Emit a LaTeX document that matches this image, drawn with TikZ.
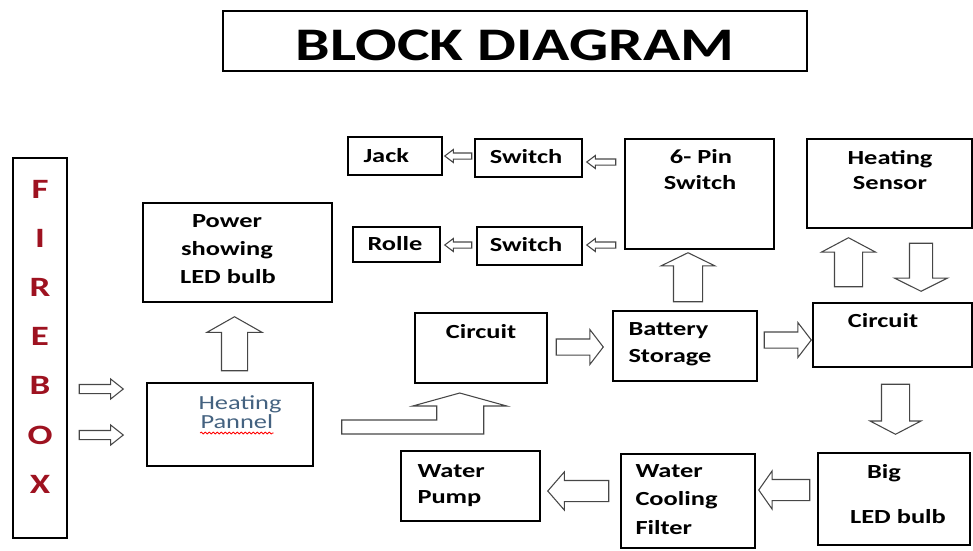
\documentclass[tikz,border=0pt]{standalone}
\usepackage{fontspec}
\setmainfont{Carlito}[FakeStretch=1.32]
\usetikzlibrary{calc,shapes.arrows,decorations.pathmorphing}

\definecolor{fireRed}{RGB}{158,18,32}
\definecolor{panelBlue}{RGB}{68,98,128}
\definecolor{arrowGrey}{RGB}{70,70,70}

\tikzset{every picture/.style={line width=0.75pt}}
\tikzset{
  box/.style 2 args={draw, line width=1.1pt, inner sep=0pt, minimum width=#1, minimum height=#2},
  lbl/.style={font=\bfseries\fontsize{15}{18}\selectfont, inner sep=0pt, anchor=base},
  lblw/.style={lbl, anchor=base west},
  fat/.style={single arrow, draw=arrowGrey, line width=0.8pt, inner xsep=0pt, text height=0pt, text depth=0pt,
    minimum width=0pt, single arrow head indent=0pt, anchor=tail},
  fatsize/.style n args={4}{minimum height=#1, inner ysep=#2, single arrow head extend=#3, single arrow tip angle=#4},
}

\begin{document}
\begin{tikzpicture}[x=0.75pt,y=0.75pt,yscale=-1,xscale=1]
\useasboundingbox (0,0) rectangle (973,550);

% Title
\node[box={438pt}{45pt}] (title) at (515,41) {};
\node[lbl, font=\bfseries\fontsize{35}{40}\selectfont] (titletext) at (515,60) {BLOCK DIAGRAM};

% Firebox
\node[box={40.5pt}{285pt}] (fb) at (40,348) {};
\foreach \l [count=\i from 0] in {F,I,R,E,B,O,X}
  \node[lbl, font=\bfseries\fontsize{21}{24}\selectfont, text=fireRed] (fbl\i) at (40,{198+49.2*\i}) {\l};

% Blocks
\node[box={141.75pt}{74.25pt}] (pwr) at (237.5,252.5) {};
\node[box={124.5pt}{62.25pt}] (hp) at (230,424.5) {};
\node[box={99pt}{52.5pt}] (cir1) at (481,348) {};
\node[box={108pt}{52.5pt}] (bat) at (685,346) {};
\node[box={111.75pt}{82.5pt}] (pin) at (699.5,194) {};
\node[box={123.75pt}{66.75pt}] (sens) at (889.5,183.5) {};
\node[box={119.25pt}{48pt}] (cir2) at (892.5,335) {};
\node[box={80.25pt}{28.5pt}] (sw1) at (528.5,158) {};
\node[box={70.5pt}{28.5pt}] (jack) at (395,156) {};
\node[box={78.75pt}{28.5pt}] (sw2) at (529.5,246) {};
\node[box={65.25pt}{26.25pt}] (rolle) at (396.5,244.5) {};
\node[box={114pt}{69pt}] (led) at (894,499) {};
\node[box={100.5pt}{70.5pt}] (filt) at (688,501) {};
\node[box={104.25pt}{52.5pt}] (pump) at (470.5,486) {};

% Text Nodes
\node[lbl] (pwra) at (227,227) {Power};
\node[lbl] (pwrb) at (227,255) {showing};
\node[lbl] (pwrc) at (228,283) {LED bulb};
\node[lblw, font=\fontsize{15}{18}\selectfont, text=panelBlue] (hpa) at (198,409) {Heating};
\node[lblw, font=\fontsize{15}{18}\selectfont, text=panelBlue] (hpb) at (200,428) {Pannel};
\node[lbl] (cir1a) at (481,338) {Circuit};
\node[lblw] (bata) at (628,335) {Battery};
\node[lblw] (batb) at (628,362) {Storage};
\node[lbl] (pina) at (701,163) {6- Pin};
\node[lbl] (pinb) at (700,189) {Switch};
\node[lbl] (sensa) at (890,164) {Heating};
\node[lbl] (sensb) at (890,189) {Sensor};
\node[lbl] (cir2a) at (883,327) {Circuit};
\node[lbl] (sw1a) at (526,163) {Switch};
\node[lblw] (jacka) at (363,162) {Jack};
\node[lbl] (sw2a) at (526,251) {Switch};
\node[lblw] (rollea) at (367,250) {Rolle};
\node[lblw] (pumpa) at (417,477) {Water};
\node[lblw] (pumpb) at (417,503) {Pump};
\node[lblw] (filta) at (635,477) {Water};
\node[lblw] (filtb) at (635,505) {Cooling};
\node[lblw] (filtc) at (635,534) {Filter};
\node[lbl] (leda) at (884,478) {Big};
\node[lbl] (ledb) at (898,523) {LED bulb};

% spell check line
\draw[red, line width=0.6pt, decorate, decoration={snake, amplitude=0.7pt, segment length=3pt}]
  ($(hpb.base west)+(0,5)$) -- ($(hpb.base east)+(0,5)$);

% Block arrows
\node[fat, fatsize={33pt}{3pt}{4.125pt}{77}] (f1) at ($(fb.east)+(11,41)$) {};
\node[fat, fatsize={33pt}{3pt}{4.125pt}{77}] (f2) at ($(fb.east)+(11,87)$) {};
\node[fat, fatsize={40.5pt}{9.375pt}{10.875pt}{121}, rotate=90] (up1) at ($(hp.north)+(4.5,-11)$) {};
\node[fat, fatsize={20.25pt}{1.875pt}{2.625pt}{74}, rotate=180] (jk) at ($(sw1.west)+(-2,-2)$) {};
\node[fat, fatsize={21.75pt}{1.875pt}{2.625pt}{74}, rotate=180] (ps1) at ($(pin.west)+(-8,-32)$) {};
\node[fat, fatsize={20.25pt}{1.875pt}{2.625pt}{74}, rotate=180] (rl) at ($(sw2.west)+(-4,-1)$) {};
\node[fat, fatsize={21.75pt}{1.875pt}{2.625pt}{74}, rotate=180] (ps2) at ($(pin.west)+(-8,51)$) {};
\node[fat, fatsize={36.75pt}{10.5pt}{9.375pt}{128}, rotate=90] (up2) at ($(bat.north)+(3,-8)$) {};
\node[fat, fatsize={35.25pt}{5.625pt}{7.125pt}{105}] (cb) at ($(cir1.east)+(8,-1)$) {};
\node[fat, fatsize={35.25pt}{5.625pt}{7.125pt}{105}] (bc) at ($(bat.east)+(6,-6)$) {};
\node[fat, fatsize={36.75pt}{10.125pt}{9.75pt}{124}, rotate=90] (up3) at ($(cir2.north)+(-44,-15)$) {};
\node[fat, fatsize={36pt}{8.25pt}{11.25pt}{127}, rotate=-90] (dn1) at ($(sens.south)+(31.5,14)$) {};
\node[fat, fatsize={37.5pt}{10.125pt}{8.625pt}{125}, rotate=-90] (dn2) at ($(cir2.south)+(3,16)$) {};
\node[fat, fatsize={38.25pt}{7.5pt}{6.375pt}{110}, rotate=180] (lf) at ($(led.west)+(-7,-9)$) {};
\node[fat, fatsize={45.75pt}{7.5pt}{6.375pt}{98}, rotate=180] (fp) at ($(filt.west)+(-11,-10)$) {};

% Bent arrow from heating pannel to circuit
\draw[arrowGrey, line width=0.8pt] ($(hp.east)+(28,-4.5)$) -- ++(95,0) -- ++(0,-14) -- ++(-24,0)
  -- ++(47,-13) -- ++(47,13) -- ++(-23,0) -- ++(0,28) -- ++(-142,0) -- cycle;

\end{tikzpicture}
\end{document}
